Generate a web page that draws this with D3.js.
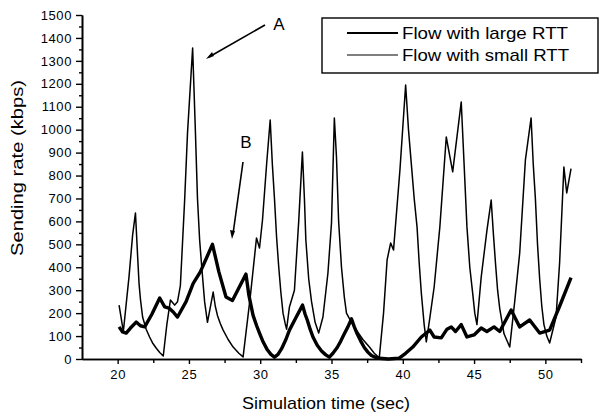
<!DOCTYPE html>
<html>
<head>
<meta charset="utf-8">
<script src="https://cdn.jsdelivr.net/npm/d3@7"></script>
<style>
  body { margin: 0; background: #fff; }
  svg text { font-family: "Liberation Sans", Arial, sans-serif; fill: #000; }
</style>
</head>
<body>
<figure id="ratechart" style="margin:0"></figure>
<script>
// sending rate of two competing flows

// flow with small RTT (thin line)
const smallTime = [20.1, 20.4, 20.8, 21.05, 21.25, 21.4, 21.5, 21.6, 21.75, 22.0, 22.24, 22.45, 22.7, 22.95, 23.2, 23.45, 23.7, 24.0,
	24.2, 24.4, 24.7, 24.9, 25.26, 25.45, 25.6, 25.75, 25.9, 26.1, 26.3, 26.7, 26.85, 27.0, 27.2, 27.4, 27.75, 28.1, 28.5, 28.8,
	29.3, 29.74, 29.95, 30.16, 30.45, 30.7, 30.85, 31.0, 31.15, 31.3, 31.45, 31.6, 31.75, 31.85, 32.05, 32.4, 32.7, 32.96, 33.1,
	33.2, 33.4, 33.6, 33.85, 34.1, 34.4, 34.75, 35.0, 35.2, 35.35, 35.5, 35.7, 35.9, 36.05, 36.4, 36.75, 37.2, 37.66, 38.0, 38.35,
	38.65, 38.9, 39.15, 39.35, 39.8, 40.2, 40.4, 40.6, 40.8, 41.0, 41.15, 41.3, 41.5, 41.65, 41.9, 42.2, 42.6, 43.05, 43.5, 44.1,
	44.3, 44.5, 44.7, 44.9, 45.05, 45.2, 45.5, 45.9, 46.2, 46.35, 46.5, 46.65, 46.8, 47.1, 47.5, 47.85, 48.2, 48.6, 49.0, 49.15,
	49.3, 49.45, 49.6, 49.75, 49.9, 50.1, 50.3, 50.75, 51.0, 51.3, 51.5, 51.8];
const smallRate = [235, 120, 360, 540, 637, 450, 330, 260, 183, 130, 96, 70, 48, 28, 13, 150, 257, 235,
	250, 320, 693, 985, 1356, 1000, 700, 520, 400, 250, 160, 292, 230, 190, 155, 126, 85, 52, 25, 9,
	270, 528, 484, 606, 850, 1042, 850, 700, 530, 400, 290, 200, 155, 130, 227, 300, 600, 903, 700,
	520, 350, 250, 160, 113, 183, 375, 593, 1051, 880, 600, 400, 270, 200, 160, 126, 85, 52, 25, 5,
	200, 432, 506, 475, 824, 1195, 1000, 850, 700, 576, 420, 288, 150, 75, 180, 314, 576, 968, 816, 1121,
	850, 576, 400, 288, 200, 150, 357, 560, 693, 550, 420, 300, 220, 110, 52, 250, 462, 868, 1051, 850,
	700, 500, 350, 230, 150, 100, 70, 183, 420, 837, 724, 830];

// flow with large RTT (thick line)
const largeTime = [20.1, 20.35, 20.6, 20.9, 21.3, 21.6, 21.9, 22.4, 22.95, 23.3, 23.6, 23.9, 24.2, 24.8, 25.3, 25.8, 26.3, 26.65,
	27.1, 27.6, 28.05, 28.5, 29.0, 29.2, 29.5, 29.75, 29.95, 30.2, 30.5, 30.75, 31.0, 31.25, 31.5, 31.8, 32.05, 32.5, 32.97,
	33.15, 33.3, 33.5, 33.7, 34.0, 34.3, 34.6, 34.85, 35.1, 35.4, 35.65, 35.9, 36.15, 36.4, 36.6, 36.8, 37.05, 37.3, 37.55, 37.8,
	38.1, 38.35, 39.0, 39.75, 40.2, 40.7, 41.3, 41.9, 42.2, 42.7, 43.1, 43.4, 43.7, 44.1, 44.5, 45.0, 45.5,
	45.9, 46.4, 46.8, 47.6, 48.2, 48.9, 49.6, 50.3, 51.0, 51.8];
const largeRate = [140, 118, 113, 135, 161, 145, 140, 195, 266, 227, 222, 205, 183, 250, 330, 380, 450, 500,
	380, 270, 255, 310, 370, 280, 190, 145, 113, 75, 40, 20, 8, 20, 45, 85, 126, 180, 235,
	195, 170, 130, 96, 60, 35, 18, 8, 25, 50, 78, 110, 140, 175, 140, 110, 78, 50, 30, 15,
	7, 3, 0, 4, 25, 52, 96, 126, 96, 92, 130, 140, 120, 150, 96, 105, 135,
	120, 140, 120, 214, 140, 170, 113, 126, 230, 355];

const xTickLabels = [20, 25, 30, 35, 40, 45, 50];
const xMinorTicks = [22.5, 27.5, 32.5, 37.5, 42.5, 47.5, 52.5];
const yTickLabels = [0, 100, 200, 300, 400, 500, 600, 700, 800, 900, 1000, 1100, 1200, 1300, 1400, 1500];
const yMinorTicks = [50, 150, 250, 350, 450, 550, 650, 750, 850, 950, 1050, 1150, 1250, 1350, 1450];
const legendNames = ["Flow with large RTT", "Flow with small RTT"];

class RateChart {

	constructor() {
		this.width = 611;
		this.height = 418;
		this.left = 82;
		this.right = 581;
		this.top = 15;
		this.bottom = 359;
	}

	init() {
		this.svg = d3.select("figure#ratechart").append("svg")
			.attr("width", this.width)
			.attr("height", this.height)
			.attr("viewBox", `0 0 ${this.width} ${this.height}`);
		this.xScale = d3.scaleLinear().domain([17.5, 52.5]).range([this.left, this.right]);
		this.yScale = d3.scaleLinear().domain([0, 1500]).range([this.bottom, this.top]);
	}

	draw() {
		const svg = this.svg;

		// minor ticks first, majors with labels on top
		svg.append("g")
			.attr("transform", "translate(0," + this.bottom + ")")
			.call(d3.axisBottom(this.xScale).tickValues(xMinorTicks).tickFormat("").tickSize(4).tickSizeOuter(0));
		svg.append("g")
			.attr("transform", "translate(0," + this.bottom + ")")
			.call(d3.axisBottom(this.xScale).tickValues(xTickLabels).tickFormat(d3.format("d"))
				.tickSize(5).tickSizeOuter(0).tickPadding(6));
		svg.append("g")
			.attr("transform", "translate(" + this.left + ",0)")
			.call(d3.axisLeft(this.yScale).tickValues(yMinorTicks).tickFormat("").tickSize(3).tickSizeOuter(0));
		svg.append("g")
			.attr("transform", "translate(" + this.left + ",0)")
			.call(d3.axisLeft(this.yScale).tickValues(yTickLabels).tickFormat(d3.format("d"))
				.tickSize(6).tickSizeOuter(0).tickPadding(4));

		svg.selectAll(".domain").attr("stroke", "#000").attr("stroke-width", 1.6);
		svg.selectAll(".tick line").attr("stroke", "#000").attr("stroke-width", 1.4);
		svg.selectAll(".tick text")
			.attr("font-size", 13)
			.attr("letter-spacing", 0.6)
			.attr("fill", "#000");

		// axis titles
		svg.append("text")
			.attr("x", 326)
			.attr("y", 409)
			.attr("text-anchor", "middle")
			.attr("font-size", 17)
			.attr("textLength", 168)
			.attr("lengthAdjust", "spacingAndGlyphs")
			.text("Simulation time (sec)");
		svg.append("text")
			.attr("transform", "translate(23,168) rotate(-90)")
			.attr("text-anchor", "middle")
			.attr("font-size", 17)
			.attr("textLength", 176)
			.attr("lengthAdjust", "spacingAndGlyphs")
			.text("Sending rate (kbps)");

		const line = d3.line()
			.x((d) => this.xScale(d[0]))
			.y((d) => this.yScale(d[1]));

		const smallData = smallTime.map((t, i) => [t, smallRate[i]]);
		const largeData = largeTime.map((t, i) => [t, largeRate[i]]);

		svg.append("path")
			.datum(largeData)
			.attr("fill", "none")
			.attr("stroke", "#000")
			.attr("stroke-width", 3.4)
			.attr("stroke-linejoin", "round")
			.attr("d", line);
		svg.append("path")
			.datum(smallData)
			.attr("fill", "none")
			.attr("stroke", "#000")
			.attr("stroke-width", 1.5)
			.attr("stroke-linejoin", "round")
			.attr("d", line);

		// annotations A and B
		svg.append("text").attr("x", 279).attr("y", 30).attr("text-anchor", "middle")
			.attr("font-size", 17).text("A");
		svg.append("line").attr("x1", 265).attr("y1", 25).attr("x2", 209).attr("y2", 57)
			.attr("stroke", "#000").attr("stroke-width", 1.6);
		svg.append("path").attr("d", "M206,59 L212,52 L214,56 Z").attr("fill", "#000");

		svg.append("text").attr("x", 246).attr("y", 148).attr("text-anchor", "middle")
			.attr("font-size", 17).text("B");
		svg.append("line").attr("x1", 243).attr("y1", 162).attr("x2", 233).attr("y2", 234)
			.attr("stroke", "#000").attr("stroke-width", 1.6);
		svg.append("path").attr("d", "M232,239 L230,230 L235,231 Z").attr("fill", "#000");

		// legend
		const legend = svg.append("g");
		legend.append("rect")
			.attr("x", 322).attr("y", 18).attr("width", 276).attr("height", 55)
			.attr("fill", "#fff").attr("stroke", "#000").attr("stroke-width", 1.4);
		const rows = legend.selectAll(".row")
			.data(legendNames)
			.enter()
			.append("g")
			.attr("transform", (d, i) => "translate(0," + (33 + i * 22) + ")");
		rows.append("line")
			.attr("x1", 347).attr("x2", 398)
			.attr("stroke", "#000")
			.attr("stroke-width", (d, i) => i === 0 ? 2 : 1.2);
		rows.append("text")
			.attr("x", 402)
			.attr("dy", "0.36em")
			.attr("font-size", 17)
			.attr("textLength", (d, i) => i === 0 ? 166 : 167)
			.attr("lengthAdjust", "spacingAndGlyphs")
			.text((d) => d);
	}
}

const rateChart = new RateChart();
rateChart.init();
rateChart.draw();
</script>
</body>
</html>
